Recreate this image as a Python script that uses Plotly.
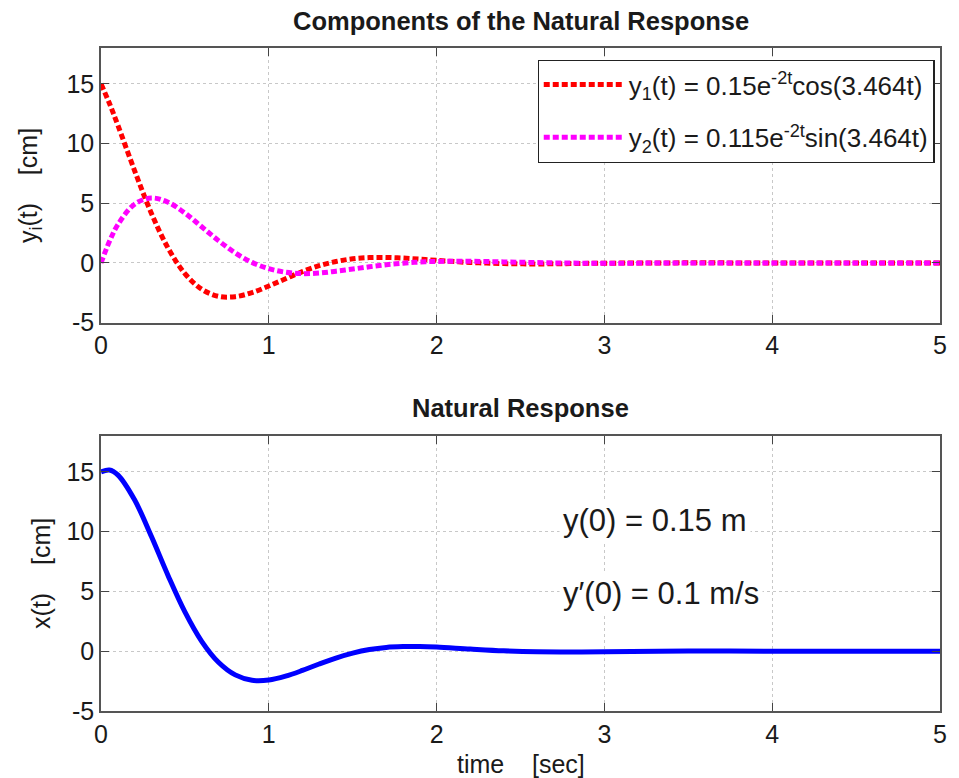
import plotly.graph_objects as go

# ---------------- data ----------------
t = [0.0, 0.05, 0.1, 0.2, 0.3, 0.4, 0.5, 0.6, 0.7, 0.8, 0.9, 1.0, 1.1, 1.2, 1.3, 1.4,
     1.5, 1.6, 1.7, 1.8, 1.9, 2.0, 2.2, 2.4, 2.6, 2.8, 3.0, 3.5, 4.0, 4.5, 5.0]
y1 = [15.0, 13.37, 11.55, 7.74, 4.17, 1.24, -0.89, -2.20, -2.79, -2.82, -2.48, -1.93, -1.32,
      -0.72, -0.23, 0.12, 0.35, 0.45, 0.46, 0.41, 0.32, 0.22, 0.04, -0.05, -0.08, -0.05,
      -0.02, 0.01, 0.0, 0.0, 0.0]
y2 = [0.0, 1.79, 3.20, 4.92, 5.44, 5.08, 4.18, 3.03, 1.87, 0.84, 0.05, -0.48, -0.78,
      -0.89, -0.84, -0.69, -0.51, -0.32, -0.15, -0.02, 0.08, 0.13, 0.14, 0.09, 0.03, -0.01,
      -0.02, 0.0, 0.0, 0.0, 0.0]
x_resp = [15.0, 15.16, 14.75, 12.66, 9.61, 6.32, 3.29, 0.83, -0.92, -1.98, -2.43, -2.41, -2.09,
          -1.61, -1.07, -0.57, -0.16, 0.14, 0.32, 0.39, 0.40, 0.35, 0.18, 0.03, -0.05, -0.06,
          -0.04, 0.01, 0.0, 0.0, 0.0]
x_ticks = [0, 1, 2, 3, 4, 5]
y_ticks = [-5, 0, 5, 10, 15]
y_tick_text = ["-5", "0", "5", "10", "15"]
name1 = "y<sub>1</sub>(t) = 0.15e<sup>-2t</sup>cos(3.464t)"
name2 = "y<sub>2</sub>(t) = 0.115e<sup>-2t</sup>sin(3.464t)"
title1 = "Components of the Natural Response"
title2 = "Natural Response"
ylab1 = "y<sub>i</sub>(t)\u00a0\u00a0\u00a0\u00a0[cm]"
ylab2 = "x(t)\u00a0\u00a0\u00a0\u00a0[cm]"
xlab = "time\u00a0\u00a0\u00a0\u00a0[sec]"
note1 = "y(0) = 0.15 m"
note2 = "y\u2032(0) = 0.1 m/s"

FONT = "Liberation Sans, Arial, Helvetica, sans-serif"

fig = go.Figure()
fig.add_trace(go.Scatter(x=t, y=y1, mode="lines", name=name1, legendgroup="a",
                         line=dict(color="#ff0000", width=5, dash="6px,3px", shape="spline"),
                         xaxis="x", yaxis="y"))
fig.add_trace(go.Scatter(x=t, y=y2, mode="lines", name=name2, legendgroup="b",
                         line=dict(color="#ff00ff", width=5, dash="6px,3px", shape="spline"),
                         xaxis="x", yaxis="y"))
fig.add_trace(go.Scatter(x=t, y=x_resp, mode="lines", showlegend=False,
                         line=dict(color="#0000ff", width=5, shape="spline"),
                         xaxis="x2", yaxis="y2"))

common = dict(ticks="inside", ticklen=8, tickwidth=1.2, tickcolor="#444",
              showline=True, linecolor="#555", linewidth=1.5, mirror="ticks",
              showgrid=True, gridcolor="#c8c8c8", griddash="dot", gridwidth=1,
              zeroline=False, tickfont=dict(family=FONT, size=25, color="#1a1a1a"))

fig.update_layout(
    width=959, height=778,
    margin=dict(l=101, r=13, t=48, b=67),
    paper_bgcolor="white", plot_bgcolor="white",
    font=dict(family=FONT, color="#1a1a1a"),
    xaxis=dict(domain=[0, 1], anchor="y", range=[0, 5], tickvals=x_ticks, **common),
    yaxis=dict(domain=[0.5857, 1], anchor="x", range=[-5, 18], tickvals=y_ticks,
               ticktext=y_tick_text, **common),
    xaxis2=dict(domain=[0, 1], anchor="y2", range=[0, 5], tickvals=x_ticks, **common),
    yaxis2=dict(domain=[0, 0.4148], anchor="x2", range=[-5, 18], tickvals=y_ticks,
                ticktext=y_tick_text, **common),
    showlegend=True,
    legend=dict(x=0.9935, y=0.982, xanchor="right", yanchor="top",
                bgcolor="white", bordercolor="#222", borderwidth=1.2,
                font=dict(family=FONT, size=26, color="#1a1a1a"),
                itemwidth=80, tracegroupgap=16),
)

ann = [
    dict(text="<b>" + title1 + "</b>", x=0.5, y=1.0407, xref="paper", yref="paper",
         xanchor="center", yanchor="middle", showarrow=False, font=dict(size=25.5)),
    dict(text="<b>" + title2 + "</b>", x=0.5, y=0.457, xref="paper", yref="paper",
         xanchor="center", yanchor="middle", showarrow=False, font=dict(size=25.5)),
    dict(text=ylab1, x=-0.084, y=0.7928, xref="paper", yref="paper", textangle=-90,
         xanchor="center", yanchor="middle", showarrow=False, font=dict(size=25)),
    dict(text=ylab2, x=-0.071, y=0.2074, xref="paper", yref="paper", textangle=-90,
         xanchor="center", yanchor="middle", showarrow=False, font=dict(size=25)),
    dict(text=xlab, x=0.5, y=-0.080, xref="paper", yref="paper",
         xanchor="center", yanchor="middle", showarrow=False, font=dict(size=25)),
    dict(text=note1, x=2.73, y=10.9, xref="x2", yref="y2", xanchor="left", yanchor="middle",
         showarrow=False, bgcolor="white", borderpad=3, font=dict(size=31)),
    dict(text=note2, x=2.73, y=4.8, xref="x2", yref="y2", xanchor="left", yanchor="middle",
         showarrow=False, bgcolor="white", borderpad=3, font=dict(size=31)),
]
fig.update_layout(annotations=ann)

fig.write_html("out.html")
